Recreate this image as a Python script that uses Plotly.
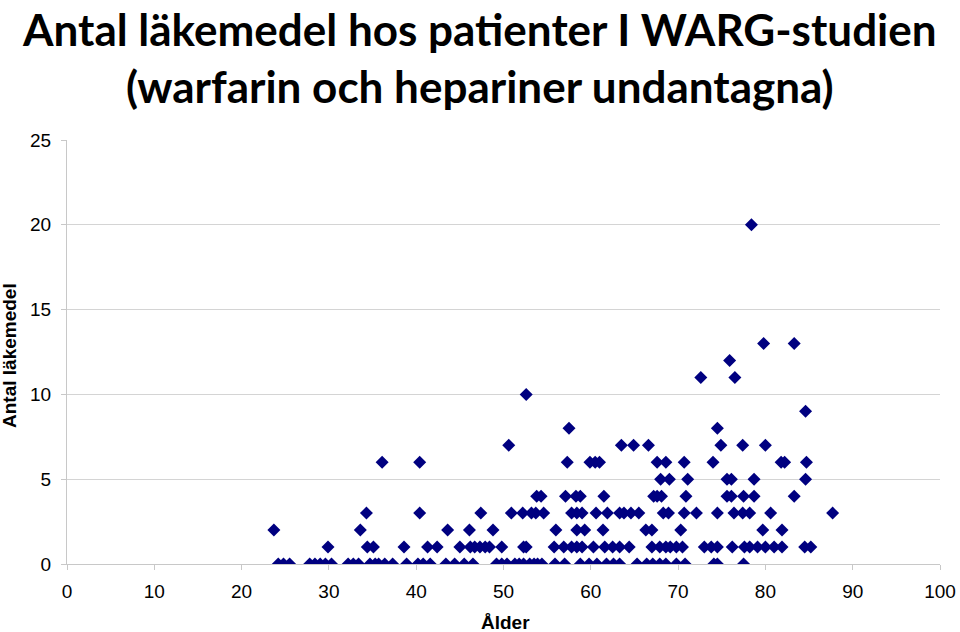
import plotly.graph_objects as go

# Ages of patients, grouped by number of drugs (Antal läkemedel)
ages_0 = [24.2, 24.8, 25.5, 27.8, 28.4, 29.0, 29.6, 30.3, 32.2, 32.8, 33.4, 34.7, 35.3, 35.7,
          36.4, 37.3, 38.9, 40.2, 40.8, 41.6, 43.4, 44.4, 45.5, 46.5, 49.2, 49.8, 50.4, 51.3,
          51.8, 52.3, 53.0, 53.5, 53.9, 54.4, 55.9, 57.0, 58.8, 59.8, 60.7, 61.8, 62.6, 63.3,
          65.3, 66.4, 67.1, 67.9, 68.6, 69.8, 70.8, 74.1, 74.5, 77.5]
ages_1 = [29.9, 34.4, 35.1, 38.6, 41.3, 42.4, 45.0, 46.2, 46.7, 47.3, 47.9, 48.4, 49.8, 52.3,
          52.6, 55.8, 56.9, 57.8, 58.4, 59.0, 60.3, 61.6, 62.5, 63.3, 64.4, 67.0, 67.9, 68.6,
          69.1, 69.8, 70.5, 73.0, 73.8, 74.5, 76.2, 77.6, 78.2, 79.1, 80.0, 81.0, 81.9, 84.5, 85.2]
ages_2 = [23.7, 33.6, 43.6, 46.1, 48.8, 56.0, 58.4, 59.3, 61.4, 66.3, 67.0, 70.3, 79.7, 81.9]
ages_3 = [34.3, 40.4, 47.4, 50.9, 52.2, 53.2, 53.7, 54.6, 57.8, 58.4, 59.0, 60.6, 61.9, 63.3,
          63.8, 64.6, 65.5, 68.3, 68.9, 70.7, 72.1, 74.5, 76.4, 77.4, 78.2, 80.6, 87.7]
ages_4 = [53.8, 54.3, 57.1, 58.3, 58.8, 61.5, 67.2, 67.6, 68.1, 70.9, 75.6, 76.1, 77.5, 78.7, 83.3]
ages_5 = [68.0, 69.0, 71.1, 75.6, 76.1, 78.7, 84.6]
ages_6 = [36.1, 40.4, 57.3, 59.9, 60.5, 61.0, 67.6, 68.6, 70.7, 74.0, 81.8, 82.2, 84.7]
ages_7 = [50.6, 63.5, 64.9, 66.6, 74.9, 77.4, 80.0]
ages_8 = [57.5, 74.5]
ages_9 = [84.6]
ages_10 = [52.6]
ages_11 = [72.6, 76.5]
ages_12 = [75.9]
ages_13 = [79.8, 83.3]
ages_20 = [78.4]

levels = [0, 1, 2, 3, 4, 5, 6, 7, 8, 9, 10, 11, 12, 13, 20]
groups = [ages_0, ages_1, ages_2, ages_3, ages_4, ages_5, ages_6, ages_7, ages_8,
          ages_9, ages_10, ages_11, ages_12, ages_13, ages_20]

alder = []
antal = []
for lvl, ages in zip(levels, groups):
    alder += ages
    antal += [lvl] * len(ages)

y_ticks = [0, 5, 10, 15, 20, 25]
x_ticks = [0, 10, 20, 30, 40, 50, 60, 70, 80, 90, 100]

title_1 = "Antal läkemedel hos patienter I WARG-studien"
title_2 = "(warfarin och hepariner undantagna)"

fig = go.Figure()
fig.add_trace(go.Scatter(
    x=alder, y=antal, mode="markers",
    marker=dict(symbol="diamond", size=10, color="#000080"),
    showlegend=False,
))

title_font = dict(family="Lato", size=44, color="black", weight="bold")
axis_font = dict(family="Liberation Sans, Arial", size=19, color="black", weight="bold")

fig.update_layout(
    width=960, height=632,
    paper_bgcolor="white", plot_bgcolor="white",
    margin=dict(l=67, r=20, t=140, b=68),
    font=dict(family="Liberation Sans, Arial", size=19, color="black"),
    annotations=[
        dict(text=title_1 + "<br>" + title_2, x=0.473, y=1.328, xref="paper", yref="paper",
             xanchor="center", yanchor="top", showarrow=False, font=title_font),
        dict(text="Antal läkemedel", x=-0.0653, y=0.493, xref="paper", yref="paper",
             xanchor="center", yanchor="middle", textangle=-90, showarrow=False, font=axis_font),
        dict(text="Ålder", x=0.502, y=-0.139, xref="paper", yref="paper",
             xanchor="center", yanchor="middle", showarrow=False, font=axis_font),
    ],
)
fig.update_xaxes(
    range=[0, 100], tickvals=x_ticks, showgrid=False, zeroline=False, automargin=False,
    showline=True, linecolor="#c8c8c8", ticks="outside", tickcolor="#c8c8c8", ticklen=5,
    ticklabelstandoff=5,
)
fig.update_yaxes(
    range=[0, 25], tickvals=y_ticks, showgrid=True, gridcolor="#d4d4d4", zeroline=False,
    automargin=False,
    showline=True, linecolor="#c8c8c8", ticks="outside", tickcolor="#c8c8c8", ticklen=5,
    ticklabelstandoff=6,
)

# drop the page's default body margin so the figure sits at the window's corner
fig.write_html("out.html", config={"displayModeBar": False},
               post_script="document.body.style.margin='0';")
